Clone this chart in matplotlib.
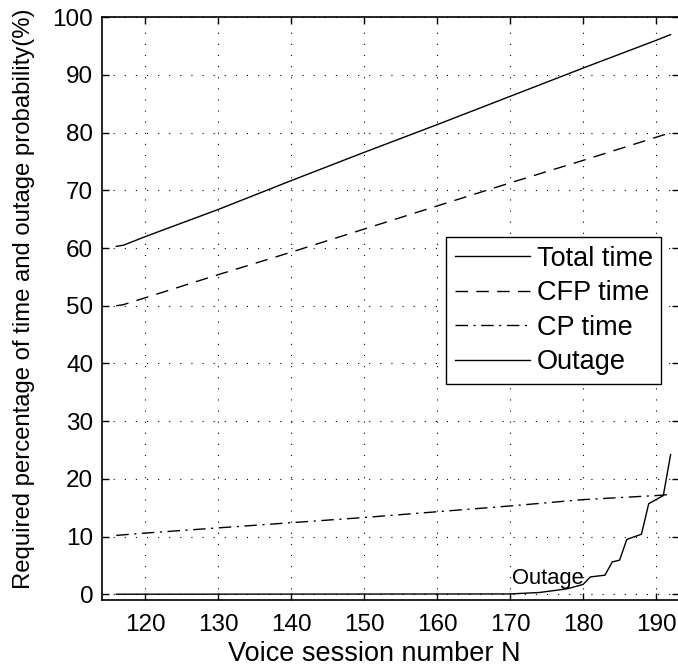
import matplotlib as mpl
mpl.use('agg')
import matplotlib.pyplot as plt

plt.rcParams['font.family'] = ['Liberation Sans', 'DejaVu Sans']

# data
total_n = [116, 117, 120, 130, 140, 150, 160, 170, 180, 190, 192]
total_pct = [60.3, 60.5, 62.0, 66.7, 71.7, 76.6, 81.4, 86.3, 91.2, 96.0, 97.0]

cfp_n = [116, 117, 120, 130, 140, 150, 160, 170, 180, 190, 192]
cfp_pct = [50.0, 50.2, 51.4, 55.4, 59.3, 63.3, 67.3, 71.3, 75.2, 79.2, 80.0]

cp_n = [116, 120, 130, 140, 150, 160, 170, 180, 190, 192]
cp_pct = [10.2, 10.6, 11.5, 12.4, 13.3, 14.3, 15.3, 16.4, 17.1, 17.3]

outage_n = [116, 170, 174, 177, 178, 180, 181, 183, 184, 185, 186, 188, 189, 191, 192]
outage_pct = [0, 0.05, 0.3, 0.8, 1.0, 1.7, 3.0, 3.3, 5.6, 5.9, 9.5, 10.4, 15.7, 17.1, 24.2]

xticks = [120, 130, 140, 150, 160, 170, 180, 190]
yticks = [0, 10, 20, 30, 40, 50, 60, 70, 80, 90, 100]

fig = plt.figure(figsize=(6.78, 6.68), dpi=100)
ax = fig.add_axes([0.150, 0.1018, 0.852, 0.8723])

ax.plot(total_n, total_pct, color='black', lw=1.0, label='Total time')
ax.plot(cfp_n, cfp_pct, color='black', lw=1.0, dashes=(9, 6), label='CFP time')
ax.plot(cp_n, cp_pct, color='black', lw=1.0, dashes=(9, 4, 1.5, 4), label='CP time')
ax.plot(outage_n, outage_pct, color='black', lw=1.0, label='Outage')

ax.text(175.2, 1.7, 'Outage', fontsize=15.8, ha='center', va='baseline')

ax.set_xlim(114, 193.2)
ax.set_ylim(-1, 100)
ax.set_xticks(xticks)
ax.set_yticks(yticks)
ax.tick_params(direction='in', length=5, labelsize=17.5, top=True, right=True, width=1)
ax.tick_params(axis='x', pad=10)
ax.tick_params(axis='y', pad=6)
ax.grid(True, color='black', lw=0.8, linestyle=(0, (1, 9)))
for s in ax.spines.values():
    s.set_linewidth(1.2)
ax.spines['right'].set_visible(False)

ax.set_xlabel('Voice session number N', fontsize=19.5)
ax.set_ylabel('Required percentage of time and outage probability(%)', fontsize=17.2)
ax.xaxis.set_label_coords(0.472, -0.0705)
ax.yaxis.set_label_coords(-0.115, 0.517)

leg = ax.legend(loc='upper right', bbox_to_anchor=(0.969, 0.6225), borderaxespad=0,
                fontsize=19.5, handlelength=2.75, fancybox=False, framealpha=1,
                edgecolor='black', labelspacing=0.31, borderpad=0.32,
                handletextpad=0.26)
leg.get_frame().set_linewidth(1.0)

fig.savefig('out.png', dpi=100)
